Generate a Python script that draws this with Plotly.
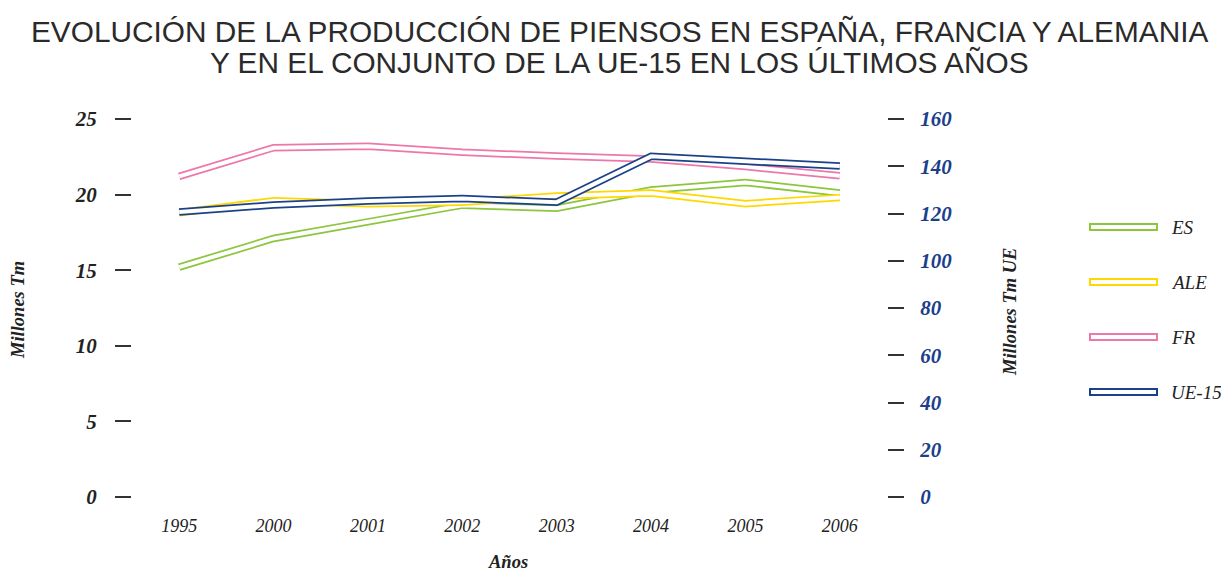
import plotly.graph_objects as go

years = ["1995", "2000", "2001", "2002", "2003", "2004", "2005", "2006"]
es = [15.2, 17.1, 18.2, 19.3, 19.1, 20.3, 20.8, 20.1]
ale = [18.8, 19.6, 19.4, 19.5, 19.9, 20.1, 19.4, 19.8]
fr = [21.2, 23.1, 23.2, 22.8, 22.55, 22.35, 21.85, 21.25]
ue15 = [120.6, 123.6, 125.3, 126.3, 124.8, 144.2, 142.1, 140.1]

series_names = ["ES", "ALE", "FR", "UE-15"]
series_vals = [es, ale, fr, ue15]
series_axis = ["y", "y", "y", "y2"]
colors = ["#8CC63E", "#FFD800", "#EE77AA", "#1B4289"]

left_ticks = [0, 5, 10, 15, 20, 25]
right_ticks = [0, 20, 40, 60, 80, 100, 120, 140, 160]

title_lines = ["EVOLUCIÓN DE LA PRODUCCIÓN DE PIENSOS EN ESPAÑA, FRANCIA Y ALEMANIA",
               "Y EN EL CONJUNTO DE LA UE-15 EN LOS ÚLTIMOS AÑOS"]

SERIF = "Liberation Serif"
fig = go.Figure()
for name, vals, ax, col in zip(series_names, series_vals, series_axis, colors):
    fig.add_trace(go.Scatter(x=years, y=vals, yaxis=ax, mode="lines",
                             line=dict(color=col, width=7.5), showlegend=False,
                             hoverinfo="skip"))
    fig.add_trace(go.Scatter(x=years, y=vals, yaxis=ax, mode="lines",
                             line=dict(color="white", width=4), showlegend=False,
                             name=name))

# page body has an 8px margin: figure is shrunk and shifted accordingly
fig.update_layout(
    width=1221, height=563,
    paper_bgcolor="white", plot_bgcolor="white",
    margin=dict(l=124, r=342, t=111, b=74),
    xaxis=dict(type="category", range=[-0.5, 7.5], showgrid=False, zeroline=False,
               showline=False, ticks="", ticklabelstandoff=16,
               tickfont=dict(family=SERIF, size=18, style="italic", color="#222")),
    yaxis=dict(range=[0, 25], tickvals=left_ticks, showgrid=False, zeroline=False,
               showline=False, ticks="outside", ticklen=16, tickwidth=1.5,
               tickcolor="#333", ticklabelstandoff=14,
               tickfont=dict(family=SERIF, size=21, style="italic", weight="bold", color="#222")),
    yaxis2=dict(range=[0, 160], tickvals=right_ticks, overlaying="y", side="right",
                showgrid=False, zeroline=False, showline=False, ticks="outside",
                ticklen=16, tickwidth=1.5, tickcolor="#333", ticklabelstandoff=12,
                tickfont=dict(family=SERIF, size=21, style="italic", weight="bold", color="#1B3F8B")),
)

def px(X):
    return (X - 132) / 755

def py(Y):
    return (497 - Y) / 378

for line, ty in zip(title_lines, [32, 62]):
    fig.add_annotation(text=line, xref="paper", yref="paper", x=px(619), y=py(ty),
                       xanchor="center", yanchor="middle", showarrow=False,
                       font=dict(family="Liberation Sans", size=29.8, color="#2a2a2a"))

annots = [
    dict(text="Millones Tm", x=18, y=310, textangle=-90),
    dict(text="Millones Tm UE", x=1010, y=312, textangle=-90),
    dict(text="Años", x=508, y=562, textangle=0),
]
for a in annots:
    fig.add_annotation(text=a["text"], xref="paper", yref="paper",
                       x=px(a["x"]), y=py(a["y"]),
                       xanchor="center", yanchor="middle", showarrow=False,
                       textangle=a["textangle"],
                       font=dict(family=SERIF, size=18.5, style="italic", weight="bold", color="#222"))

# legend
leg_y = [227, 282, 337, 392]
for name, col, ly in zip(series_names, colors, leg_y):
    fig.add_shape(type="rect", xref="paper", yref="paper",
                  x0=px(1090), x1=px(1157),
                  y0=py(ly + 3), y1=py(ly - 3),
                  line=dict(color=col, width=2), fillcolor="white")
    fig.add_annotation(text=name, xref="paper", yref="paper",
                       x=px(1169), y=py(ly),
                       xanchor="left", yanchor="middle", showarrow=False,
                       font=dict(family=SERIF, size=19, style="italic", color="#222"))

fig.write_html("out.html")
